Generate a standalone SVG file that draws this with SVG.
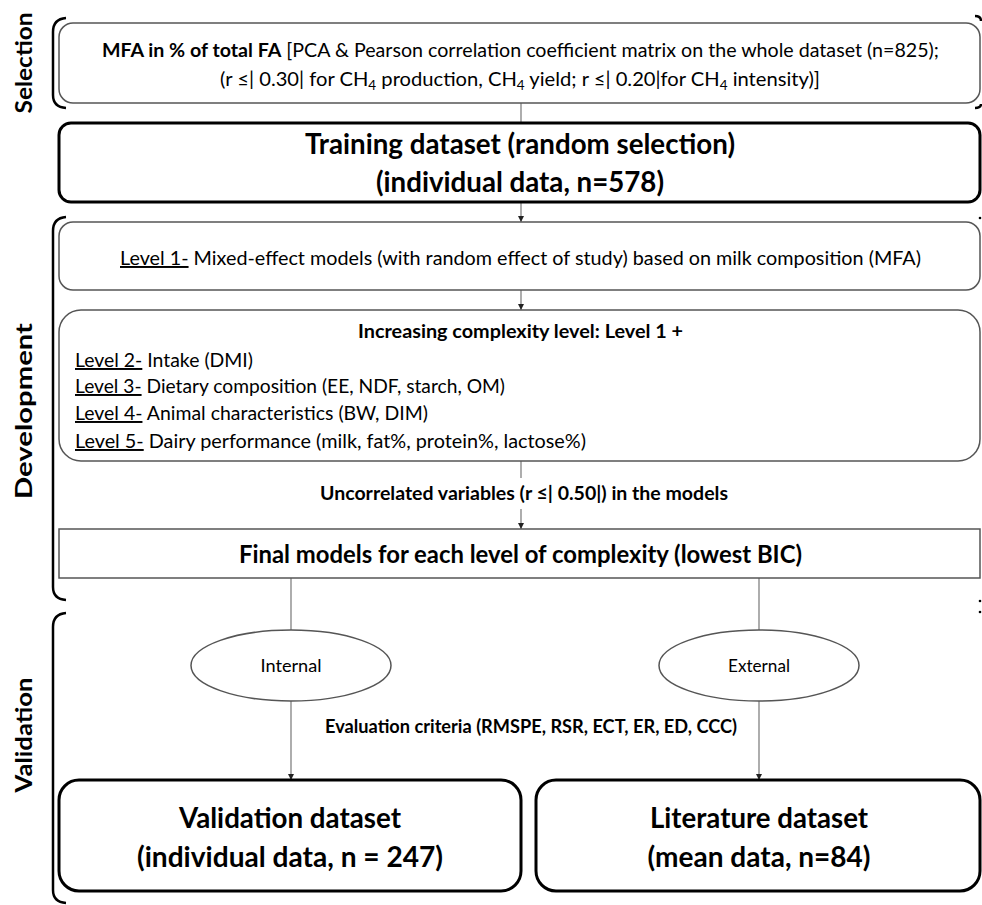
<svg xmlns="http://www.w3.org/2000/svg" width="982" height="905" viewBox="0 0 982 905">
<defs>
<style>
text{font-family:Lato,"Open Sans","Liberation Sans",sans-serif;fill:#000}
.b{font-weight:bold}
.t18{font-size:19.5px}
.big{font-size:29px;font-weight:bold}
.sec{font-size:23px;font-weight:bold}
.u{text-decoration:underline}
.sub{font-size:13px}
.thin{fill:#fff;stroke:#555;stroke-width:1.5}
.thick{fill:#fff;stroke:#000;stroke-width:3}
.br{fill:none;stroke:#000;stroke-width:2.5}
.con{stroke:#777;stroke-width:1.2;fill:none}
</style>
<marker id="ah" viewBox="0 0 10 10" refX="10" refY="5" markerWidth="6" markerHeight="6" orient="auto" markerUnits="userSpaceOnUse">
<path d="M0,0 L10,5 L0,10 z" fill="#222"/>
</marker>
</defs>
<rect width="982" height="905" fill="#fff"/>

<g id="section-labels">
<text class="sec" transform="translate(32,63) rotate(-90)" text-anchor="middle" textLength="101" lengthAdjust="spacingAndGlyphs">Selection</text>
<text class="sec" transform="translate(32,411) rotate(-90)" text-anchor="middle" textLength="176" lengthAdjust="spacingAndGlyphs">Development</text>
<text class="sec" transform="translate(32,735) rotate(-90)" text-anchor="middle" textLength="115" lengthAdjust="spacingAndGlyphs">Validation</text>
<path class="br" d="M66,18 Q53,19 53,32 L53,95 Q53,107 66,108"/>
<path class="br" d="M66,217 Q53,218 53,231 L53,587 Q53,599 66,600"/>
<path class="br" d="M66,613 Q53,614 53,627 L53,890 Q53,902 66,903"/>
<path class="br" d="M975,16 Q981,16 981,21" stroke-width="2"/>
<path class="br" d="M975,108 Q981,108 981,104" stroke-width="2"/>
<circle cx="980" cy="218" r="1.3" fill="#000"/>
<circle cx="980" cy="601" r="1.3" fill="#000"/>
<circle cx="980" cy="612" r="1.3" fill="#000"/>
</g>

<g id="connectors">
<line class="con" x1="521" y1="103" x2="521" y2="123"/>
<line class="con" x1="521" y1="202" x2="521" y2="222" marker-end="url(#ah)"/>
<line class="con" x1="521" y1="290" x2="521" y2="310" marker-end="url(#ah)"/>
<line class="con" x1="521" y1="461" x2="521" y2="529" marker-end="url(#ah)"/>
<line class="con" x1="291" y1="578" x2="291" y2="630"/>
<line class="con" x1="759" y1="578" x2="759" y2="630"/>
<line class="con" x1="291" y1="701" x2="291" y2="780" marker-end="url(#ah)"/>
<line class="con" x1="759" y1="701" x2="759" y2="780" marker-end="url(#ah)"/>
</g>

<g id="selection-box">
<rect class="thin" x="59" y="23" width="921" height="80" rx="14"/>
<text class="t18" x="102" y="57" textLength="837" lengthAdjust="spacingAndGlyphs"><tspan class="b">MFA in % of total FA</tspan> [PCA &amp; Pearson correlation coefficient matrix on the whole dataset (n=825);</text>
<text class="t18" x="220" y="86" textLength="600" lengthAdjust="spacingAndGlyphs">(r ≤| 0.30| for CH<tspan class="sub" dy="4">4</tspan><tspan dy="-4"> production, CH</tspan><tspan class="sub" dy="4">4</tspan><tspan dy="-4"> yield; r ≤| 0.20|for CH</tspan><tspan class="sub" dy="4">4</tspan><tspan dy="-4"> intensity)]</tspan></text>
</g>

<g id="training-box">
<rect class="thick" x="59" y="123" width="921" height="79" rx="12"/>
<text class="big" x="520" y="154" text-anchor="middle" textLength="430" lengthAdjust="spacingAndGlyphs">Training dataset (random selection)</text>
<text class="big" x="520" y="192" text-anchor="middle" textLength="288" lengthAdjust="spacingAndGlyphs">(individual data, n=578)</text>
</g>

<g id="level1-box">
<rect class="thin" x="59" y="222" width="921" height="68" rx="14"/>
<text class="t18" x="120" y="265" textLength="801" lengthAdjust="spacingAndGlyphs"><tspan class="u">Level 1-</tspan> Mixed-effect models (with random effect of study) based on milk composition (MFA)</text>
</g>

<g id="complexity-box">
<rect class="thin" x="59" y="310" width="921" height="151" rx="22"/>
<text class="t18 b" x="358" y="338" textLength="325" lengthAdjust="spacingAndGlyphs">Increasing complexity level: Level 1 +</text>
<text class="t18" x="75" y="367" textLength="178" lengthAdjust="spacingAndGlyphs"><tspan class="u">Level 2-</tspan> Intake (DMI)</text>
<text class="t18" x="75" y="393" textLength="430" lengthAdjust="spacingAndGlyphs"><tspan class="u">Level 3-</tspan> Dietary composition (EE, NDF, starch, OM)</text>
<text class="t18" x="75" y="420" textLength="353" lengthAdjust="spacingAndGlyphs"><tspan class="u">Level 4-</tspan> Animal characteristics (BW, DIM)</text>
<text class="t18" x="75" y="448" textLength="511" lengthAdjust="spacingAndGlyphs"><tspan class="u">Level 5-</tspan> Dairy performance (milk, fat%, protein%, lactose%)</text>
</g>

<g id="uncorrelated-label">
<rect x="59" y="478" width="921" height="31" fill="#fff"/>
<text class="b" x="320" y="500" font-size="18" textLength="408" lengthAdjust="spacingAndGlyphs">Uncorrelated variables (r ≤| 0.50|) in the models</text>
</g>

<g id="final-box">
<rect class="thin" x="59" y="529" width="921" height="49"/>
<text class="b" x="239" y="563" font-size="24.5" textLength="563" lengthAdjust="spacingAndGlyphs">Final models for each level of complexity (lowest BIC)</text>
</g>

<g id="internal">
<ellipse class="thin" cx="291" cy="665.5" rx="100" ry="35.5" stroke="#444" stroke-width="1.2"/>
<text x="291" y="672" font-size="17" text-anchor="middle" textLength="61" lengthAdjust="spacingAndGlyphs">Internal</text>
</g>

<g id="external">
<ellipse class="thin" cx="759" cy="665.5" rx="100" ry="35.5" stroke="#444" stroke-width="1.2"/>
<text x="759" y="672" font-size="17" text-anchor="middle" textLength="62" lengthAdjust="spacingAndGlyphs">External</text>
</g>

<g id="evaluation-label">
<text class="b" x="325" y="733" font-size="18" textLength="412" lengthAdjust="spacingAndGlyphs">Evaluation criteria (RMSPE, RSR, ECT, ER, ED, CCC)</text>
</g>

<g id="validation-box">
<rect class="thick" x="59" y="780" width="462" height="111" rx="20"/>
<text class="big" x="290" y="828" font-size="30" text-anchor="middle" textLength="222" lengthAdjust="spacingAndGlyphs">Validation dataset</text>
<text class="big" x="290" y="867" font-size="30" text-anchor="middle" textLength="306" lengthAdjust="spacingAndGlyphs">(individual data, n = 247)</text>
</g>

<g id="literature-box">
<rect class="thick" x="536" y="780" width="444" height="111" rx="20"/>
<text class="big" x="759" y="828" font-size="30" text-anchor="middle" textLength="218" lengthAdjust="spacingAndGlyphs">Literature dataset</text>
<text class="big" x="759" y="867" font-size="30" text-anchor="middle" textLength="223" lengthAdjust="spacingAndGlyphs">(mean data, n=84)</text>
</g>
</svg>
